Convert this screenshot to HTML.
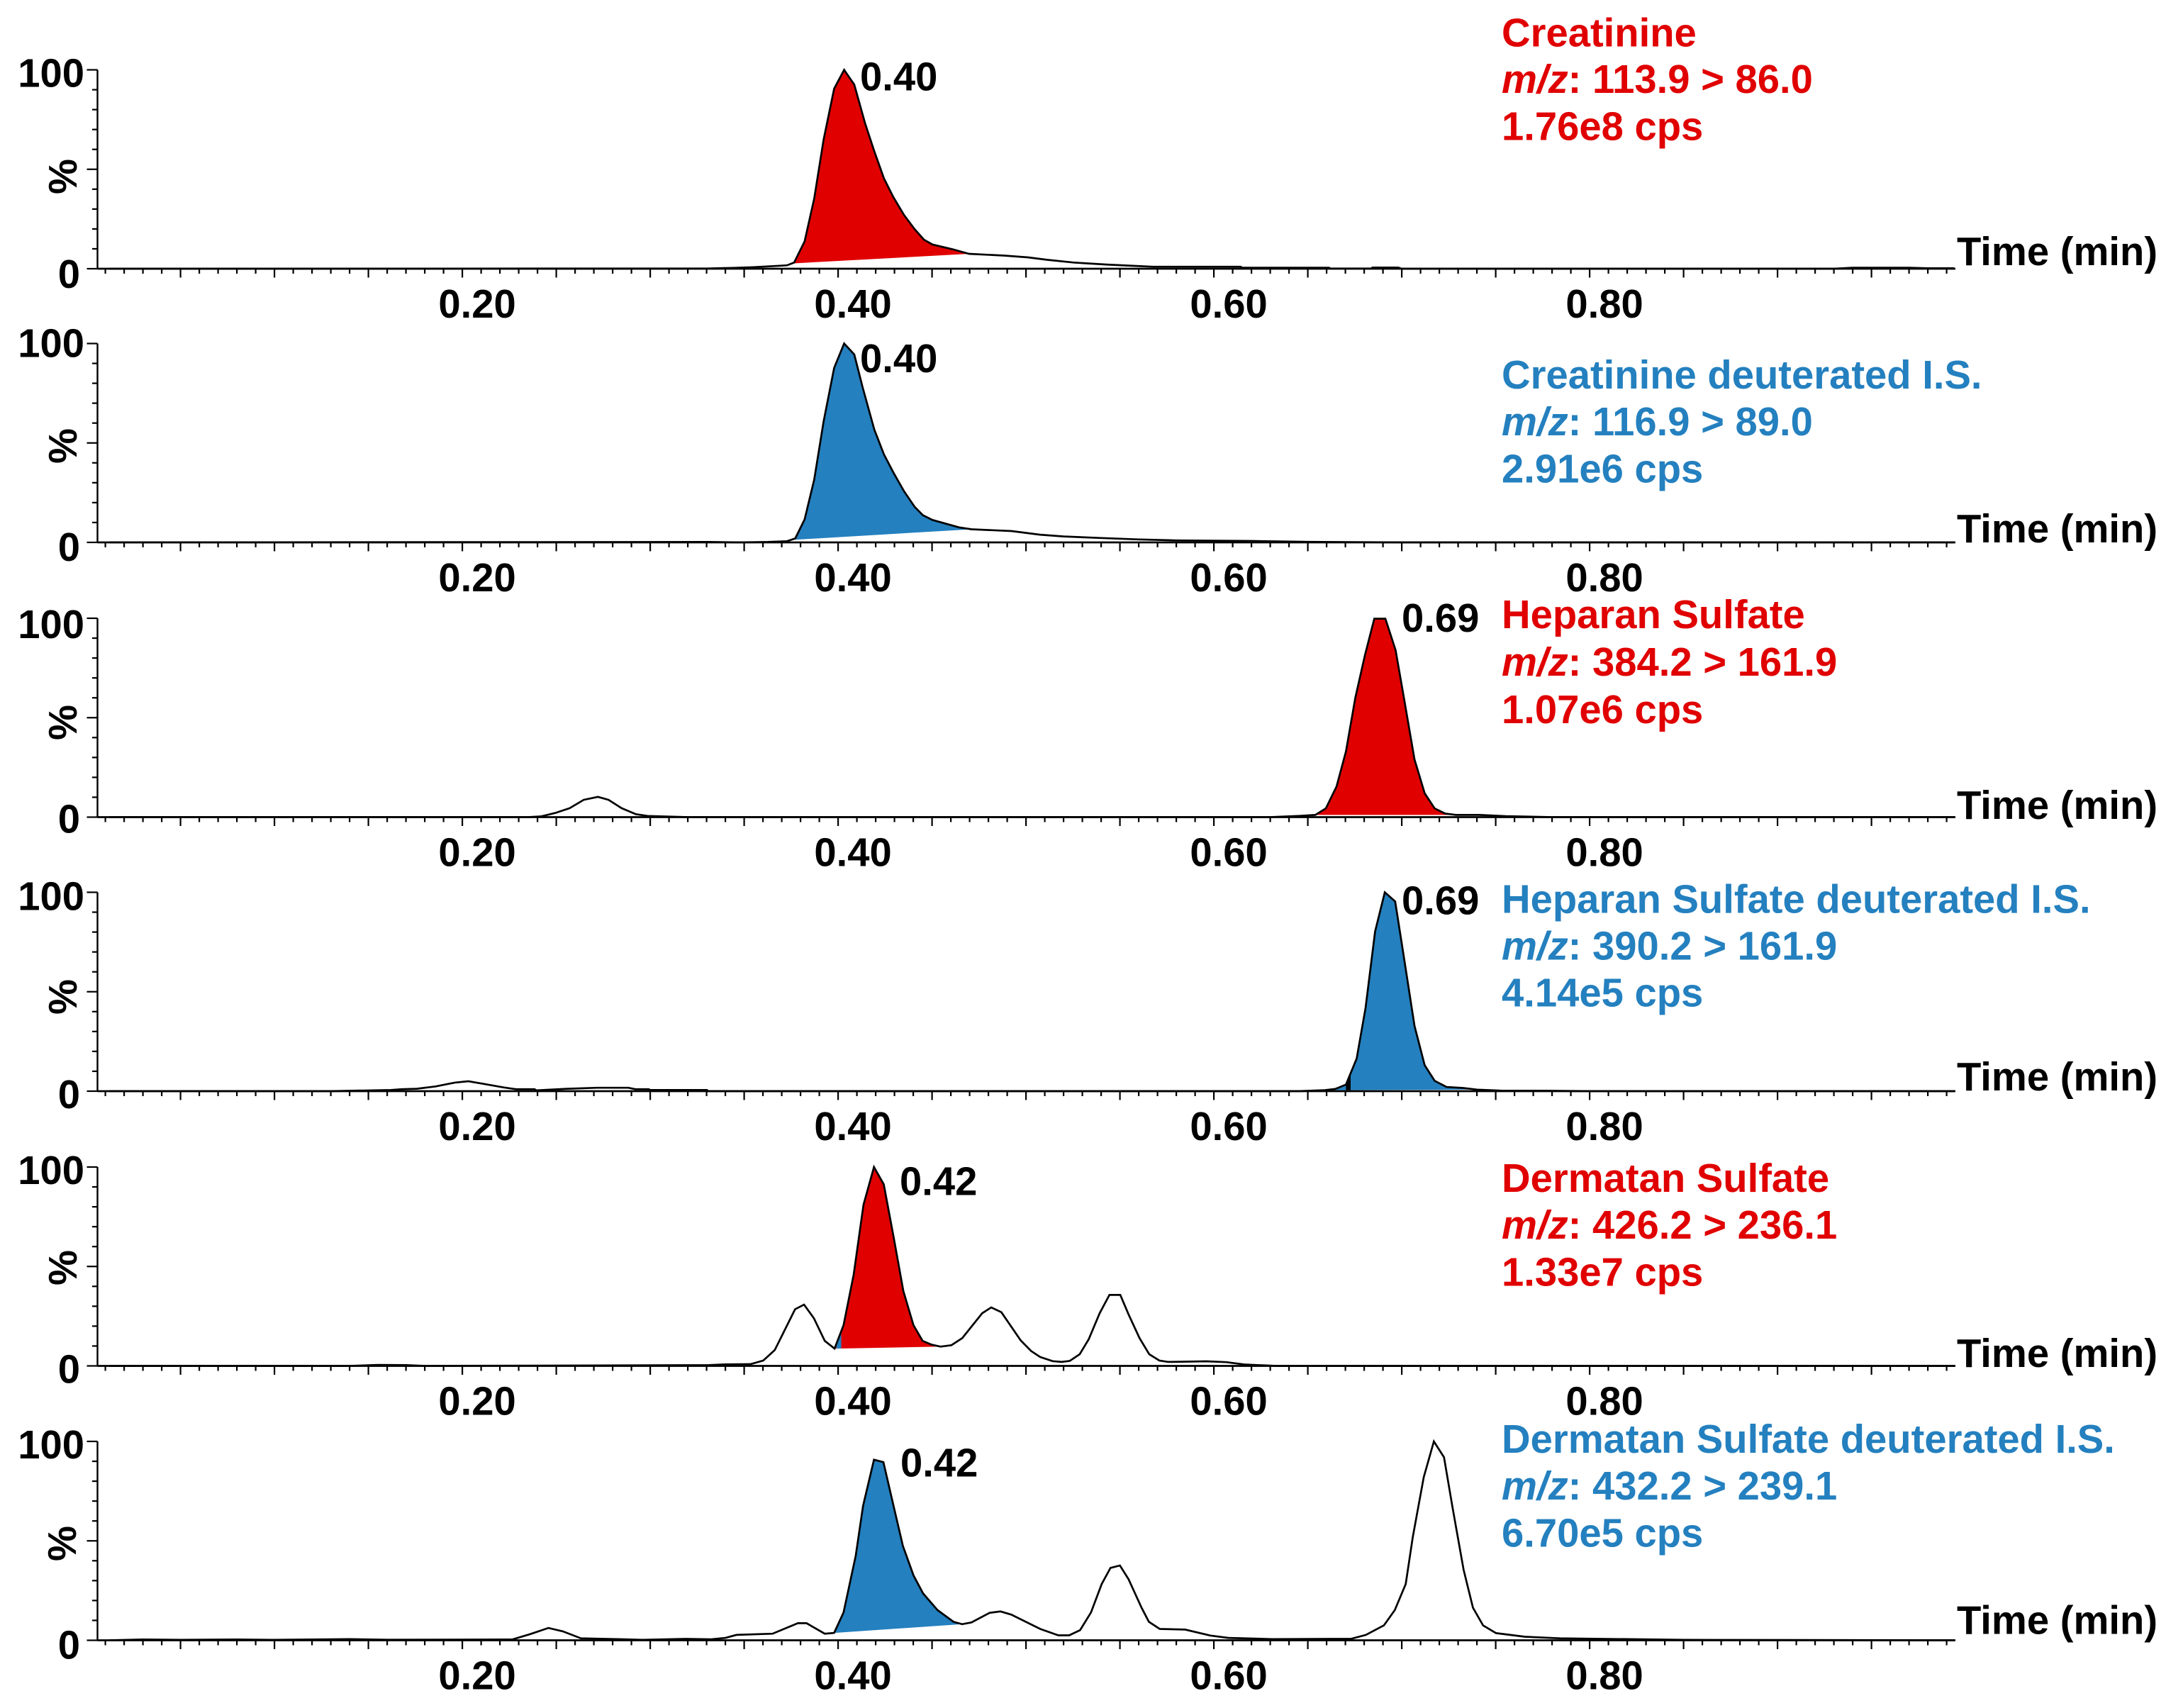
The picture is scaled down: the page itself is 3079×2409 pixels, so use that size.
<!DOCTYPE html>
<html lang="en">
<head>
<meta charset="utf-8">
<title>MRM chromatograms</title>
<style>
html,body{margin:0;padding:0;background:#fff;}
svg{display:block;}
text{font-family:"Liberation Sans",Arial,sans-serif;font-weight:bold;font-size:56.2px;fill:#000;}
.red text,text.red{fill:#e00000;}
.blue text,text.blue{fill:#2480bf;}
.it{font-style:italic;}
</style>
</head>
<body>
<svg id="chart" xmlns="http://www.w3.org/2000/svg" width="3079" height="2409" viewBox="0 0 3079 2409">
  <rect x="0" y="0" width="3079" height="2409" fill="#fff"/>
  <g id="marks"></g>

  <g>
    <g class="red">
      <text x="2118" y="65.7">Creatinine</text>
      <text x="2118" y="131"><tspan class="it">m/z</tspan>: 113.9 &gt; 86.0</text>
      <text x="2118" y="197.5">1.76e8 cps</text>
    </g>
    <text x="1213" y="127.7">0.40</text>
    <text x="2760" y="374">Time (min)</text>
    <text transform="translate(108,249) rotate(-90)" text-anchor="middle">%</text>
  </g>

  <g>
    <g class="blue">
      <text x="2118" y="548">Creatinine deuterated I.S.</text>
      <text x="2118" y="614"><tspan class="it">m/z</tspan>: 116.9 &gt; 89.0</text>
      <text x="2118" y="680.5">2.91e6 cps</text>
    </g>
    <text x="1213" y="525">0.40</text>
    <text x="2760" y="765">Time (min)</text>
    <text transform="translate(108,629) rotate(-90)" text-anchor="middle">%</text>
  </g>

  <g>
    <g class="red">
      <text x="2118" y="886">Heparan Sulfate</text>
      <text x="2118" y="953"><tspan class="it">m/z</tspan>: 384.2 &gt; 161.9</text>
      <text x="2118" y="1020">1.07e6 cps</text>
    </g>
    <text x="1977" y="891">0.69</text>
    <text x="2760" y="1155">Time (min)</text>
    <text transform="translate(108,1019) rotate(-90)" text-anchor="middle">%</text>
  </g>

  <g>
    <g class="blue">
      <text x="2118" y="1287.7">Heparan Sulfate deuterated I.S.</text>
      <text x="2118" y="1353.7"><tspan class="it">m/z</tspan>: 390.2 &gt; 161.9</text>
      <text x="2118" y="1419.7">4.14e5 cps</text>
    </g>
    <text x="1977" y="1289.4">0.69</text>
    <text x="2760" y="1538">Time (min)</text>
    <text transform="translate(108,1406) rotate(-90)" text-anchor="middle">%</text>
  </g>

  <g>
    <g class="red">
      <text x="2118" y="1681">Dermatan Sulfate</text>
      <text x="2118" y="1747"><tspan class="it">m/z</tspan>: 426.2 &gt; 236.1</text>
      <text x="2118" y="1813.5">1.33e7 cps</text>
    </g>
    <text x="1269" y="1685.7">0.42</text>
    <text x="2760" y="1928">Time (min)</text>
    <text transform="translate(108,1788) rotate(-90)" text-anchor="middle">%</text>
  </g>

  <g>
    <g class="blue">
      <text x="2118" y="2049">Dermatan Sulfate deuterated I.S.</text>
      <text x="2118" y="2115"><tspan class="it">m/z</tspan>: 432.2 &gt; 239.1</text>
      <text x="2118" y="2181.5">6.70e5 cps</text>
    </g>
    <text x="1270" y="2082.7">0.42</text>
    <text x="2760" y="2304.5">Time (min)</text>
    <text transform="translate(107,2177) rotate(-90)" text-anchor="middle">%</text>
  </g>
</svg>

<script>
// ---- Data: retention time (min) and relative abundance (%) ----
const xTickValues = [0.20, 0.40, 0.60, 0.80];
const xTickLabels = ['0.20', '0.40', '0.60', '0.80'];
const yTickValues = [100, 0];
const yTickLabels = ['100', '0'];

const creatinineTimes = [0.012,0.33,0.3439,0.355,0.369,0.3728,0.3766,0.3822,0.3873,0.3923,0.3979,0.4032,0.4086,0.4143,0.4193,0.4244,0.4294,0.4351,0.4407,0.4457,0.4502,0.4609,0.4697,0.4885,0.5011,0.5111,0.5255,0.5428,0.5587,0.5674,0.6143,0.615,0.6613,0.662,0.6837,0.6844,0.6981,0.7,0.93,0.94,0.97,0.98,0.994];
const creatinineValues = [0,0.1,0.4,0.8,1.5,1.7,3.1,13.8,35.3,65,90.5,100,92.6,73.3,59,45.4,36,27,19.9,14.6,12.2,9.8,7.5,6.6,5.7,4.5,3.1,2.1,1.4,1,1,0.5,0.5,0.1,0.1,0.6,0.6,0,0,0.5,0.5,0.2,0.2];
const creatinineFillTimes = [0.3753, 0.4697];

const creatinineIsTimes = [0.012,0.3313,0.3476,0.3627,0.3728,0.3772,0.3822,0.3873,0.3923,0.3979,0.4032,0.4086,0.413,0.4193,0.4244,0.4294,0.4351,0.4407,0.4451,0.4502,0.4647,0.471,0.4923,0.5074,0.52,0.54,0.56,0.58,0.62,0.65,0.7,0.994];
const creatinineIsValues = [0,0.2,0,0.2,0.6,2,11.6,31.6,60.9,87.7,100,94.5,78.2,56.7,44.2,35.2,25.7,17.9,13.7,11.3,7.5,6.6,5.7,3.9,3,2.2,1.5,1,0.7,0.3,0,0];
const creatinineIsFillTimes = [0.3747, 0.471];

const heparanTimes = [0.012,0.235,0.242,0.2495,0.2571,0.2646,0.2722,0.2778,0.2848,0.2923,0.2986,0.3049,0.32,0.63,0.6458,0.654,0.6596,0.6653,0.6703,0.6753,0.6804,0.6854,0.6913,0.6967,0.7011,0.7068,0.7122,0.7175,0.7231,0.7288,0.7414,0.7552,0.78,0.994];
const heparanValues = [0,0,0.4,2.1,4.5,8.7,10.2,8.7,4.5,1.5,0.6,0.4,0,0,0.65,1.1,4.4,15.4,33,60,81.5,99.8,99.8,84,60.3,29,12,4.4,1.8,1.1,1.1,0.5,0,0];
const heparanFillTimes = [0.654, 0.7414];

const heparanIsTimes = [0.012,0.13,0.162,0.1678,0.1757,0.1858,0.196,0.2032,0.2118,0.2219,0.2284,0.2385,0.2393,0.2457,0.2559,0.2718,0.2884,0.292,0.2992,0.2999,0.3302,0.3309,0.645,0.659,0.6646,0.6703,0.676,0.6807,0.6858,0.691,0.6965,0.7005,0.7068,0.7122,0.7175,0.7238,0.7326,0.7401,0.7527,0.7753,0.8,0.994];
const heparanIsValues = [0,0,0.6,1,1.2,2.4,4.3,5,3.6,1.9,1,1,0.4,0.7,1.2,1.7,1.7,1,1,0.6,0.6,0,0,0.5,1.1,3.3,16.4,41.8,80.3,100,95.4,71.3,32.8,13.1,5.2,2.1,1.6,0.8,0.3,0.2,0,0];
const heparanIsFillTimes = [0.659, 0.7401];
const heparanIsSliverTimes = [0.6703, 0.6728];

const dermatanTimes = [0.012,0.14,0.155,0.17,0.18,0.3313,0.34,0.3534,0.3602,0.3663,0.3771,0.3819,0.3871,0.3929,0.3981,0.4029,0.4083,0.4135,0.4191,0.4243,0.4295,0.4347,0.4401,0.445,0.4497,0.4545,0.4603,0.4661,0.4767,0.4815,0.4869,0.4972,0.5027,0.5075,0.5142,0.519,0.5233,0.5286,0.5334,0.5392,0.5444,0.5502,0.5546,0.5604,0.5656,0.571,0.5758,0.596,0.6066,0.6162,0.6332,0.994];
const dermatanValues = [0,0,0.5,0.4,0,0.4,0.8,0.9,2.7,8,28.5,30.8,24,12.6,8.7,20.5,46,81,100,91.3,65,37.7,20.5,12.6,10.7,9.7,10.4,14,26.5,29.4,27,12.8,7.5,4.5,2.4,2,2.5,5.9,13.4,26.5,35.7,35.7,25.9,14,5.9,2.7,2,2.3,1.9,0.7,0,0];
const dermatanFillTimes = [0.3981, 0.4545];
const dermatanSliverTimes = [0.3991, 0.4017];

const dermatanIsTimes = [0.012,0.03,0.05,0.08,0.1,0.14,0.16,0.2265,0.2361,0.2458,0.2535,0.2631,0.2823,0.2958,0.3189,0.3324,0.3401,0.3459,0.3651,0.3786,0.3832,0.3929,0.3979,0.4029,0.4094,0.4133,0.4191,0.4241,0.4295,0.4345,0.4402,0.4452,0.4529,0.4614,0.466,0.471,0.4806,0.4864,0.4922,0.5076,0.5172,0.523,0.5288,0.5346,0.5403,0.545,0.55,0.5546,0.5615,0.5654,0.5712,0.5847,0.5981,0.6077,0.6308,0.6732,0.6809,0.6905,0.6963,0.7021,0.7059,0.7117,0.7171,0.7225,0.7271,0.7329,0.7379,0.7433,0.7502,0.7656,0.7841,0.85,0.994];
const dermatanIsValues = [0,0.4,0.2,0.4,0.2,0.6,0.3,0.4,3.1,6.2,4.5,1,0.6,0.2,0.7,0.5,1.2,2.7,3.3,8.6,8.6,3.3,3.7,14,42.6,67.6,90.8,89.6,67.6,47.4,32.5,23.6,15.2,9.3,8.1,9,13.8,14.5,12.9,5.7,2.5,2.5,5.1,14,28.3,36.4,37.6,30.7,16.4,9.3,5.7,5.4,2.4,1.2,0.6,0.8,2.7,7.5,15.2,28.3,52,82,100,92,66.4,35.5,16.4,7.5,3.6,1.8,1,0.2,0];
const dermatanIsFillTimes = [0.3979, 0.466];

// ---- Layout (not data) ----
const RED = '#e00000';
const BLUE = '#2480bf';
const SVGNS = 'http://www.w3.org/2000/svg';
const AXIS_LEFT = 137.5;
const AXIS_RIGHT = 2758;
const PANEL_HEIGHT = 280.5;
const panelBases = [379, 765, 1152.5, 1539, 1926.5, 2313.5];
const panelTopLabelOffsets = [24, 19, 28, 25, 24, 24];
const panelBottomLabelOffsets = [27, 26, 22, 24, 24, 26];

const panels = [
  {name: 'creatinine', times: creatinineTimes, values: creatinineValues, fill: creatinineFillTimes, color: RED},
  {name: 'creatinine-is', times: creatinineIsTimes, values: creatinineIsValues, fill: creatinineIsFillTimes, color: BLUE},
  {name: 'heparan', times: heparanTimes, values: heparanValues, fill: heparanFillTimes, color: RED},
  {name: 'heparan-is', times: heparanIsTimes, values: heparanIsValues, fill: heparanIsFillTimes, color: BLUE, sliver: heparanIsSliverTimes, sliverColor: '#000'},
  {name: 'dermatan', times: dermatanTimes, values: dermatanValues, fill: dermatanFillTimes, color: RED, sliver: dermatanSliverTimes, sliverColor: BLUE},
  {name: 'dermatan-is', times: dermatanIsTimes, values: dermatanIsValues, fill: dermatanIsFillTimes, color: BLUE}
];

function xScale(t) { return 1182.1 + (t - 0.4) * 2650; }
function yScale(v, i) { return panelBases[i] - v / 100 * PANEL_HEIGHT; }

function valueAt(times, values, t) {
  for (let k = 1; k < times.length; k++) {
    if (t <= times[k]) {
      const f = (t - times[k - 1]) / (times[k] - times[k - 1]);
      return values[k - 1] + f * (values[k] - values[k - 1]);
    }
  }
  return values[values.length - 1];
}

function svgEl(tag, attrs, parent) {
  const el = document.createElementNS(SVGNS, tag);
  for (const key in attrs) el.setAttribute(key, attrs[key]);
  parent.appendChild(el);
  return el;
}

// Integrated-peak polygon: follows the trace from a to b, closes along the straight chord of the peak range.
function fillPoints(p, i, a, b) {
  const pts = [];
  const chord = function (t) {
    const v0 = valueAt(p.times, p.values, p.fill[0]);
    const v1 = valueAt(p.times, p.values, p.fill[1]);
    return v0 + (t - p.fill[0]) / (p.fill[1] - p.fill[0]) * (v1 - v0);
  };
  pts.push(xScale(a).toFixed(1) + ',' + yScale(valueAt(p.times, p.values, a), i).toFixed(1));
  p.times.forEach(function (t, k) {
    if (t > a && t < b) pts.push(xScale(t).toFixed(1) + ',' + yScale(p.values[k], i).toFixed(1));
  });
  pts.push(xScale(b).toFixed(1) + ',' + yScale(valueAt(p.times, p.values, b), i).toFixed(1));
  pts.push(xScale(b).toFixed(1) + ',' + yScale(chord(b), i).toFixed(1));
  pts.push(xScale(a).toFixed(1) + ',' + yScale(chord(a), i).toFixed(1));
  return pts.join(' ');
}

const marks = document.getElementById('marks');

panels.forEach(function (p, i) {
  const base = panelBases[i];
  const top = base - PANEL_HEIGHT;
  const g = svgEl('g', {}, marks);
  
  

  // peak fill
  const fill = svgEl('polygon', {points: fillPoints(p, i, p.fill[0], p.fill[1]), fill: p.color}, g);
  
  

  if (p.sliver) {
    const sliver = svgEl('polygon', {points: fillPoints(p, i, p.sliver[0], p.sliver[1]), fill: p.sliverColor}, g);
    
    
  }

  // y axis
  const yAxis = svgEl('line', {x1: AXIS_LEFT, x2: AXIS_LEFT, y1: top, y2: base, stroke: '#000', 'stroke-width': 2.4}, g);
  
  

  for (let v = 0; v <= 100; v += 10) {
    const major = v % 50 === 0;
    const tick = svgEl('line', {x1: AXIS_LEFT - (major ? 15 : 7.5), x2: AXIS_LEFT, y1: yScale(v, i), y2: yScale(v, i), stroke: '#000', 'stroke-width': 2.2}, g);
    
    
  }

  // y tick labels
  yTickValues.forEach(function (v, k) {
    const isTop = v === 100;
    const label = svgEl('text', {
      x: isTop ? 119 : 113,
      y: isTop ? top + panelTopLabelOffsets[i] : base + panelBottomLabelOffsets[i],
      'text-anchor': 'end'
    }, g);
    label.textContent = yTickLabels[k];
    
    
  });

  // x axis
  const xAxis = svgEl('line', {x1: AXIS_LEFT, x2: AXIS_RIGHT, y1: base, y2: base, stroke: '#000', 'stroke-width': 2.8}, g);
  
  

  for (let n = 1; n <= 99; n++) {
    const major = n % 5 === 0;
    const tx = xScale(n / 100);
    const tick = svgEl('line', {x1: tx, x2: tx, y1: base, y2: base + (major ? 12.5 : 7), stroke: '#000', 'stroke-width': 2.2}, g);
    
    
  }

  // x tick labels
  xTickValues.forEach(function (t, k) {
    const label = svgEl('text', {x: xScale(t) + 21, y: base + 69, 'text-anchor': 'middle'}, g);
    label.textContent = xTickLabels[k];
    
    
  });

  // trace
  const pts = p.times.map(function (t, k) {
    return xScale(t).toFixed(1) + ',' + yScale(p.values[k], i).toFixed(1);
  }).join(' ');
  const trace = svgEl('polyline', {points: pts, fill: 'none', stroke: '#000', 'stroke-width': 2.7, 'stroke-linejoin': 'miter'}, g);
  
  
});
</script>
</body>
</html>
